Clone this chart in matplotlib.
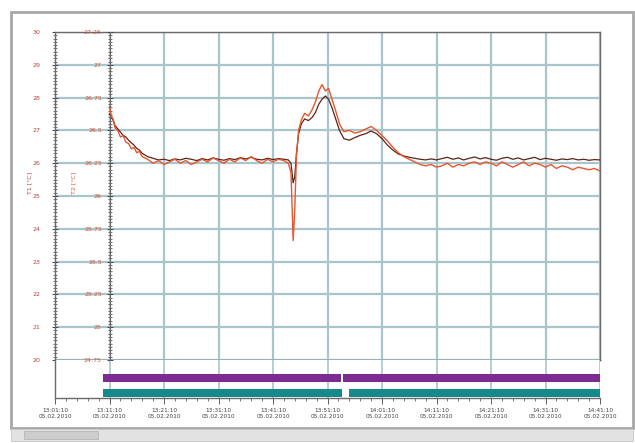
import numpy as np
import matplotlib
matplotlib.use("Agg")
import matplotlib.pyplot as plt
from matplotlib.patches import Rectangle
from matplotlib.ticker import MultipleLocator

# time in minutes from the left edge of the time axis
t_min = [10, 10.3, 10.7, 11, 11.5, 12, 12.5, 13, 13.5, 14, 14.5, 15, 15.5, 16,
         17, 18, 19, 20, 21, 22, 23, 24, 25, 26, 27, 28, 29, 30, 31, 32, 33,
         34, 35, 36, 37, 38, 39, 40, 41, 42, 42.8, 43.3, 43.7, 44.0, 44.3,
         44.7, 45.2, 45.8, 46.5, 47.2, 47.8, 48.4, 49.0, 49.6, 50.2, 50.8,
         51.5, 52.2, 53.0, 54, 55, 56, 57, 58, 59, 60, 61, 62, 63, 64, 65, 66,
         67, 68, 69, 70, 71, 72, 73, 74, 75, 76, 77, 78, 79, 80, 81, 82, 83,
         84, 85, 86, 87, 88, 89, 90, 91, 92, 93, 94, 95, 96, 97, 98, 99, 100]

# sensor 1 (dark trace, left axis 20..30)
t1 = [27.50, 27.40, 27.30, 27.15, 27.05, 26.95, 26.85, 26.80, 26.70, 26.62,
      26.55, 26.45, 26.40, 26.30, 26.20, 26.15, 26.10, 26.12, 26.08, 26.13,
      26.10, 26.15, 26.12, 26.08, 26.14, 26.10, 26.16, 26.12, 26.09, 26.14,
      26.11, 26.17, 26.13, 26.18, 26.12, 26.10, 26.15, 26.11, 26.14, 26.12,
      26.10, 26.00, 25.40, 25.60, 26.30, 26.90, 27.20, 27.35, 27.30, 27.40,
      27.55, 27.80, 27.95, 28.05, 27.95, 27.70, 27.35, 27.00, 26.75, 26.70,
      26.78, 26.85, 26.90, 26.98, 26.90, 26.75, 26.55, 26.40, 26.28, 26.22,
      26.18, 26.15, 26.12, 26.10, 26.13, 26.10, 26.14, 26.18, 26.12, 26.16,
      26.10, 26.15, 26.19, 26.13, 26.17, 26.12, 26.09, 26.15, 26.18, 26.12,
      26.16, 26.10, 26.14, 26.18, 26.11, 26.15, 26.12, 26.09, 26.13, 26.11,
      26.14, 26.10, 26.12, 26.09, 26.11, 26.10]

# sensor 2 (orange trace, inner axis 24.75..27.25)
t2 = [26.68, 26.62, 26.58, 26.52, 26.50, 26.45, 26.46, 26.41, 26.40, 26.36,
      26.37, 26.33, 26.34, 26.30, 26.28, 26.25, 26.27, 26.24, 26.26, 26.28,
      26.25, 26.27, 26.24, 26.26, 26.28, 26.26, 26.29, 26.27, 26.25, 26.28,
      26.26, 26.29, 26.27, 26.30, 26.27, 26.25, 26.28, 26.26, 26.28, 26.27,
      26.25, 26.18, 25.66, 25.90, 26.30, 26.50, 26.58, 26.63, 26.61, 26.66,
      26.72, 26.80, 26.85, 26.80, 26.82, 26.74, 26.65, 26.55, 26.49, 26.50,
      26.48, 26.49, 26.51, 26.53, 26.50, 26.46, 26.42, 26.37, 26.33, 26.30,
      26.28, 26.26, 26.24, 26.23, 26.24, 26.22, 26.23, 26.25, 26.22, 26.24,
      26.23, 26.25, 26.26, 26.24, 26.26, 26.25, 26.23, 26.26, 26.24, 26.22,
      26.24, 26.26, 26.23, 26.25, 26.24, 26.22, 26.24, 26.21, 26.23, 26.22,
      26.20, 26.22, 26.21, 26.20, 26.21, 26.19]

# digital channels: (start, end) in minutes
ch1_on = [(8.8, 52.5), (52.8, 100)]
ch2_on = [(8.8, 52.6), (53.9, 100)]

x_ticks = [0, 10, 20, 30, 40, 50, 60, 70, 80, 90, 100]
x_labels = ["13:01:10\n05.02.2010", "13:11:10\n05.02.2010", "13:21:10\n05.02.2010",
            "13:31:10\n05.02.2010", "13:41:10\n05.02.2010", "13:51:10\n05.02.2010",
            "14:01:10\n05.02.2010", "14:11:10\n05.02.2010", "14:21:10\n05.02.2010",
            "14:31:10\n05.02.2010", "14:41:10\n05.02.2010"]
y1_ticks = [20, 21, 22, 23, 24, 25, 26, 27, 28, 29, 30]
y2_ticks = [24.75, 25, 25.25, 25.5, 25.75, 26, 26.25, 26.5, 26.75, 27, 27.25]

W, H = 635, 443


def px_rect(x0, y0, x1, y1):
    """pixel box (top-left origin) -> figure fraction rect"""
    return [x0 / W, 1 - y1 / H, (x1 - x0) / W, (y1 - y0) / H]


fig = plt.figure(figsize=(W / 100, H / 100), dpi=100)
fig.patch.set_facecolor("white")

# window frame and scrollbar
fig.patches.append(Rectangle((11 / W, 1 - 428 / H), 622 / W, 416 / H, transform=fig.transFigure,
                             fill=False, ec="#a8a8a8", lw=2.0, zorder=0))
fig.patches.append(Rectangle((11 / W, 1 - 441 / H), 622 / W, 12 / H, transform=fig.transFigure,
                             fc="#e2e2e2", ec="#c8c8c8", lw=0.6, zorder=0))
fig.patches.append(Rectangle((24 / W, 1 - 439 / H), 74 / W, 8 / H, transform=fig.transFigure,
                             fc="#cdcdcd", ec="#b0b0b0", lw=0.5, zorder=0))

grid_c = "#a9c5cc"
frame_c = "#6a6a6a"
red1 = "#b8453a"
red2 = "#d4553a"

ax = fig.add_axes(px_rect(55, 32, 600, 360))
axb = fig.add_axes(px_rect(55, 360, 600, 398), sharex=ax)
ax2 = ax.twinx()

ax.plot(t_min, t1, color="#5b2418", lw=0.9, zorder=3)
ax2.plot(t_min, t2, color="#e8552e", lw=1.0, zorder=4)

ax.set_xlim(0, 100)
ax.set_ylim(20, 30)
ax2.set_ylim(24.75, 27.25)

ax.set_xticks(x_ticks)
ax.set_yticks(y1_ticks)
ax.yaxis.set_minor_locator(MultipleLocator(0.1))
ax.grid(True, which="major", color=grid_c, lw=1.6)
ax.tick_params(axis="x", length=0, labelbottom=False)
ax.tick_params(axis="y", which="major", direction="inout", length=5, width=0.7,
               labelsize=4.5, labelcolor=red1, color="#444", pad=8)
ax.tick_params(axis="y", which="minor", direction="inout", length=3, width=0.5, color="#444")
for s in ["top", "right", "left"]:
    ax.spines[s].set_color(frame_c)
    ax.spines[s].set_linewidth(1.0)
ax.spines["bottom"].set_color("#555555")
ax.spines["bottom"].set_linewidth(1.0)
ax.set_ylabel("T1 [°C]", color=red1, fontsize=4.5)
ax.yaxis.set_label_coords(-0.042, 0.54)

# inner axis sitting on the first time division
ax2.yaxis.tick_left()
ax2.yaxis.set_label_position("left")
ax2.spines["left"].set_position(("axes", 0.1))
ax2.spines["left"].set_color(frame_c)
for s in ["top", "right", "bottom"]:
    ax2.spines[s].set_visible(False)
ax2.set_yticks(y2_ticks)
ax2.set_yticklabels([f"{v:g}" for v in y2_ticks])
ax2.yaxis.set_minor_locator(MultipleLocator(0.025))
ax2.tick_params(axis="y", which="major", direction="inout", length=5, width=0.7,
                labelsize=4.5, labelcolor=red2, color="#444", pad=3)
ax2.tick_params(axis="y", which="minor", direction="inout", length=3, width=0.5, color="#444")
ax2.set_ylabel("T2 [°C]", color=red2, fontsize=4.5)
ax2.yaxis.set_label_coords(0.04, 0.54)

# digital channel strip
axb.set_ylim(38, 0)
axb.broken_barh([(a, b - a) for a, b in ch1_on], (14, 8), facecolors="#7d2a93", zorder=3)
axb.broken_barh([(a, b - a) for a, b in ch2_on], (29, 8), facecolors="#16898a", zorder=3)
axb.set_yticks([])
axb.grid(True, axis="x", color=grid_c, lw=1.2)
axb.set_xticks(x_ticks)
axb.set_xticklabels(x_labels)
axb.xaxis.set_minor_locator(MultipleLocator(2))
axb.tick_params(axis="x", which="major", direction="out", length=4, width=0.6,
                labelsize=4.2, labelcolor="#444", color="#444", pad=3)
axb.tick_params(axis="x", which="minor", direction="out", length=2.5, width=0.5, color="#444")
axb.spines["top"].set_visible(False)
axb.spines["right"].set_visible(False)
for s in ["left", "bottom"]:
    axb.spines[s].set_color(frame_c)
    axb.spines[s].set_linewidth(1.0)
axb.set_axisbelow(True)
ax.set_axisbelow(True)

fig.savefig("out.png", dpi=100)
